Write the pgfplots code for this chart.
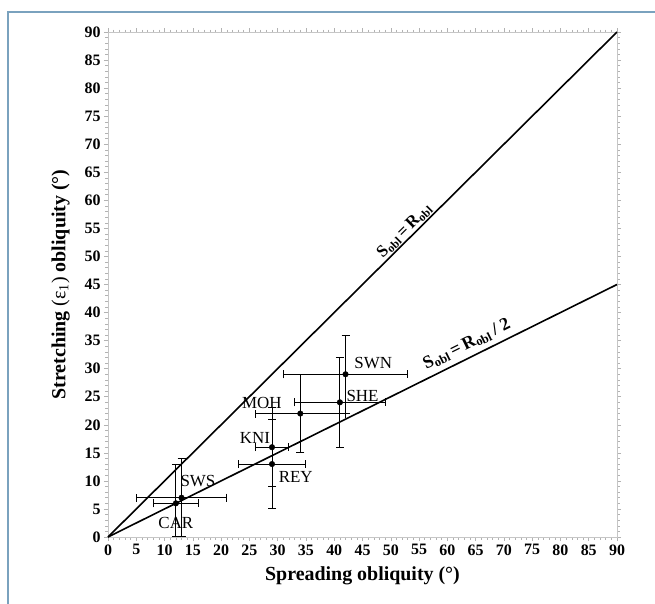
\documentclass[border=0pt]{standalone}
\usepackage{pgfplots}
\pgfplotsset{compat=1.18}
\usepackage{fontspec}
\setmainfont{Liberation Serif}
\definecolor{framec}{RGB}{122,162,190}
\begin{document}
\begin{tikzpicture}
\path[use as bounding box] (0bp,0bp) rectangle (655bp,604bp);
\draw[framec, line width=1.5bp] (8bp,0bp) -- (8bp,592bp) -- (660bp,592bp);
\begin{axis}[
  at={(108bp,67bp)}, anchor=south west,
  scale only axis, width=509bp, height=505bp,
  xmin=0, xmax=90, ymin=0, ymax=90,
  xtick={0,5,...,90}, ytick={0,5,...,90},
  minor tick num=4,
  tick align=outside,
  axis line style={gray!45, line width=0.6bp},
  major tick length=4bp, minor tick length=2.5bp,
  every tick/.style={gray!60, line width=0.5bp},
  ticklabel style={font=\fontsize{16}{16}\selectfont\bfseries, black},
  /pgf/number format/assume math mode=true,
  xlabel={Spreading obliquity (°)},
  ylabel={Stretching {\mdseries(ε\textsubscript{1})} obliquity (°)},
  label style={font=\fontsize{20}{20}\selectfont\bfseries},
  ylabel style={yshift=8bp},
  xlabel style={yshift=-5bp},
  clip=false,
]
\addplot[black, line width=1.6bp] coordinates {(0,0) (90,90)};
\addplot[black, line width=1.6bp] coordinates {(0,0) (90,45)};
\pgfplotstableread{
x  y  exp exm eyp eym
12 6  4   4   7   6
13 7  8   8   7   7
29 16 3   3   7   7
29 13 6   6   8   8
34 22 8   8   7   7
41 24 8   8   8   8
42 29 11  11  7   7
}\pts
\addplot[draw=none, mark=none, forget plot,
  error bars/.cd, x dir=both, x explicit, y dir=both, y explicit,
  error bar style={draw=black, line width=1bp},
  error mark=-,
  error mark options={draw=black, rotate=90, mark size=4bp, line width=1bp}]
  table[x=x, y=y, x error plus=exp, x error minus=exm, y error plus=eyp, y error minus=eym] {\pts};
\addplot[black, only marks, mark=*, mark size=2.8bp] table[x=x, y=y] {\pts};
\begin{scope}[every node/.style={font=\fontsize{17}{17}\selectfont}]
\node at (axis cs:46.9,31.0) {SWN};
\node at (axis cs:45.0,25.1) {SHE};
\node at (axis cs:27.2,23.9) {MOH};
\node at (axis cs:26.0,17.6) {KNI};
\node at (axis cs:33.2,10.7) {REY};
\node at (axis cs:15.9,10.0) {SWS};
\node at (axis cs:12.0,2.5) {CAR};
\end{scope}
\node[rotate=44.8, anchor=south, inner sep=1.5bp, font=\fontsize{17}{17}\selectfont\bfseries] at (axis cs:53.5,53.5) {S\textsubscript{obl}\,=\,R\textsubscript{obl}};
\node[rotate=26.4, anchor=south, inner sep=1.5bp, yshift=4bp, font=\fontsize{18}{18}\selectfont\bfseries] at (axis cs:64.5,32.25) {S\textsubscript{obl}\,=\,R\textsubscript{obl}\,/ 2};
\end{axis}
\end{tikzpicture}
\end{document}
